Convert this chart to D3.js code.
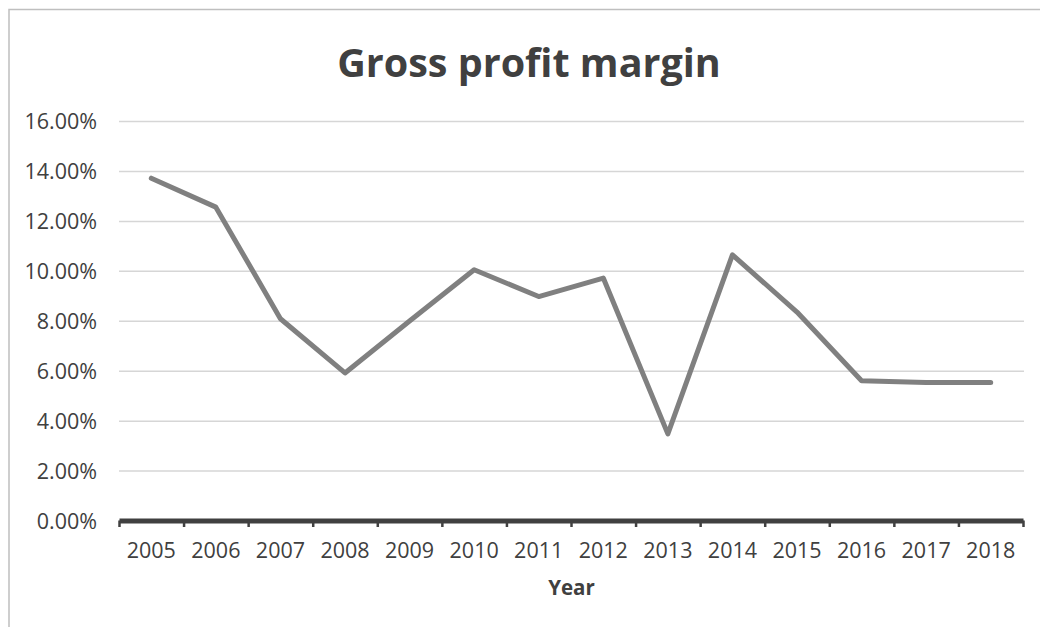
<!DOCTYPE html>
<html>
<head>
<meta charset="utf-8">
<script src="https://cdn.jsdelivr.net/npm/d3@7"></script>
<style>
  html, body { margin: 0; padding: 0; background: #fff; }
  svg { display: block; }
  text { font-family: "Open Sans", "Noto Sans", sans-serif; }
</style>
</head>
<body>
<svg id="chart" width="1040" height="627"></svg>
<script>
// Gross profit margin by year
const years = ["2005","2006","2007","2008","2009","2010","2011","2012","2013","2014","2015","2016","2017","2018"];
const margin = [0.1371, 0.1255, 0.0808, 0.0591, 0.0799, 0.1004, 0.0897, 0.0971, 0.0347, 0.1064, 0.0835, 0.0560, 0.0553, 0.0553];
const yTicks = [0, 0.02, 0.04, 0.06, 0.08, 0.10, 0.12, 0.14, 0.16];
const titleText = "Gross profit margin";
const xTitle = "Year";

const svg = d3.select("#chart");
const plot = { left: 119, right: 1024, top: 121, bottom: 520.5 };

// Chart frame
svg.append("path")
  .attr("d", "M9,627 V9.5 H1040")
  .attr("fill", "none")
  .attr("stroke", "#bfbfbf")
  .attr("stroke-width", 1.5);

const x = d3.scaleBand().domain(years).range([plot.left, plot.right - 1]);
const y = d3.scaleLinear().domain([0, 0.16]).range([plot.bottom, plot.top]);

// Horizontal gridlines
svg.append("g")
  .attr("transform", `translate(${plot.left},0)`)
  .call(d3.axisLeft(y).tickValues(yTicks).tickSize(-(plot.right - plot.left)).tickFormat(""))
  .call(g => g.select(".domain").remove())
  .call(g => g.selectAll("line").attr("stroke", "#d6d6d6").attr("stroke-width", 1.5));

// Y tick labels
svg.append("g")
  .attr("transform", `translate(97,0)`)
  .call(d3.axisLeft(y).tickValues(yTicks).tickSize(0).tickPadding(0).tickFormat(d3.format(".2%")))
  .call(g => g.select(".domain").remove())
  .call(g => g.selectAll("text")
    .attr("fill", "#404040")
    .style("font-size", "21.5px")
    .attr("dy", "0.35em"));

// X axis baseline and category boundary ticks
const edges = d3.scalePoint().domain(d3.range(years.length + 1)).range(x.range());
svg.append("g")
  .attr("transform", `translate(0,${plot.bottom})`)
  .call(d3.axisBottom(edges).tickSize(6.5).tickFormat("").tickSizeOuter(0))
  .call(g => g.select(".domain").attr("stroke", "#404040").attr("stroke-width", 5))
  .call(g => g.selectAll(".tick line").attr("stroke", "#404040").attr("stroke-width", 2.5));

// X tick labels
svg.append("g")
  .attr("transform", `translate(0,${plot.bottom})`)
  .call(d3.axisBottom(x).tickSize(0).tickPadding(22))
  .call(g => g.select(".domain").remove())
  .call(g => g.selectAll("text")
    .attr("fill", "#404040")
    .style("font-size", "21.5px"));

// Series line
const line = d3.line()
  .x((d, i) => x(years[i]) + x.bandwidth() / 2)
  .y(d => y(d));

svg.append("path")
  .datum(margin)
  .attr("d", line)
  .attr("fill", "none")
  .attr("stroke", "#808080")
  .attr("stroke-width", 5)
  .attr("stroke-linecap", "round")
  .attr("stroke-linejoin", "round");

// Titles
svg.append("text")
  .attr("x", 529)
  .attr("y", 77)
  .attr("text-anchor", "middle")
  .attr("fill", "#404040")
  .style("font-size", "39.5px")
  .style("font-weight", "700")
  .text(titleText);

svg.append("text")
  .attr("x", (plot.left + plot.right) / 2)
  .attr("y", 595)
  .attr("text-anchor", "middle")
  .attr("fill", "#404040")
  .style("font-size", "20.5px")
  .style("font-weight", "700")
  .text(xTitle);
</script>
</body>
</html>
